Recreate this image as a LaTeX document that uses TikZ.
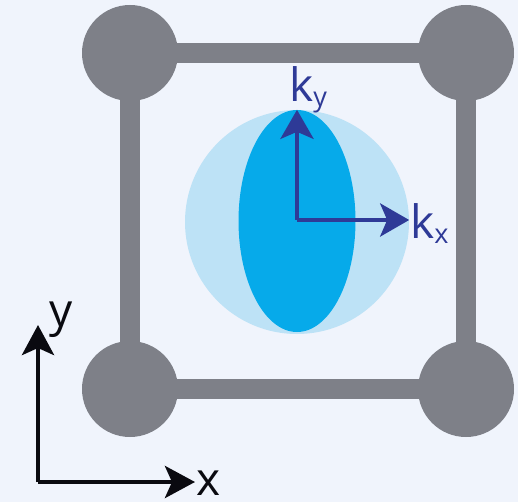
\documentclass[tikz,border=0pt]{standalone}
\usepackage{fontspec}
\setmainfont{Open Sans}
\usepackage{tikz}
\usetikzlibrary{shapes.geometric, arrows.meta, backgrounds}

\definecolor{bgcol}{HTML}{F0F4FC}
\definecolor{latgrey}{HTML}{7E8088}
\definecolor{fermi}{HTML}{BDE2F6}
\definecolor{ellblue}{HTML}{06AAEA}
\definecolor{navy}{HTML}{2E3A97}
\definecolor{axblack}{HTML}{0A0A10}

\newcommand{\sublab}[1]{\raisebox{-5pt}{\fontsize{27}{27}\selectfont #1}}

\begin{document}
\begin{tikzpicture}[
    x=1pt, y=-1pt,
    atom/.style={circle, fill=latgrey, inner sep=0pt, minimum size=96pt},
    bar/.style={line width=20pt, latgrey},
    karrow/.style={-{Stealth[length=29pt, width=33pt, inset=7pt]}, line width=4.6pt, navy},
    axis/.style={-{Stealth[length=30pt, width=32pt, inset=7pt]}, line width=4.6pt, axblack},
    lab/.style={inner sep=0pt, font=\fontsize{46}{50}\selectfont}
]
\useasboundingbox (0,0) rectangle (518,502);
% Nodes
\node[atom] (tl) at (130,53) {};
\node[atom] (tr) at (466,53) {};
\node[atom] (bl) at (130,389) {};
\node[atom] (br) at (466,389) {};

\node[circle, fill=fermi, inner sep=0pt, minimum size=224pt] (fs) at (297,222) {};
\node[ellipse, fill=ellblue, inner sep=0pt, minimum width=117pt, minimum height=222pt] (el) at (297,221) {};

\coordinate (o) at (297,220);
\node[lab, navy, anchor=base west] (ky) at (289,102) {k\sublab{y}};
\node[lab, navy, anchor=base west] (kx) at (410,238) {k\sublab{x}};

\coordinate (ax) at (38,482);
\coordinate (axy) at (38,325);
\coordinate (axx) at (195,482);
\node[lab, axblack, anchor=base west] (ylab) at (49,326) {y};
\node[lab, axblack, anchor=base west] (xlab) at (196,495) {x};

% Paths
\begin{scope}[on background layer]
\fill[bgcol] (0,0) rectangle (518,502);
\draw[bar] (tl.center) -- (tr.center) -- (br.center) -- (bl.center) -- cycle;
\end{scope}

\draw[karrow] (o) -- (el.north);
\draw[karrow] (o) -- (o -| fs.east);

\draw[axis] (ax) -- (axy);
\draw[axis] (ax) -- (axx);
\end{tikzpicture}
\end{document}
